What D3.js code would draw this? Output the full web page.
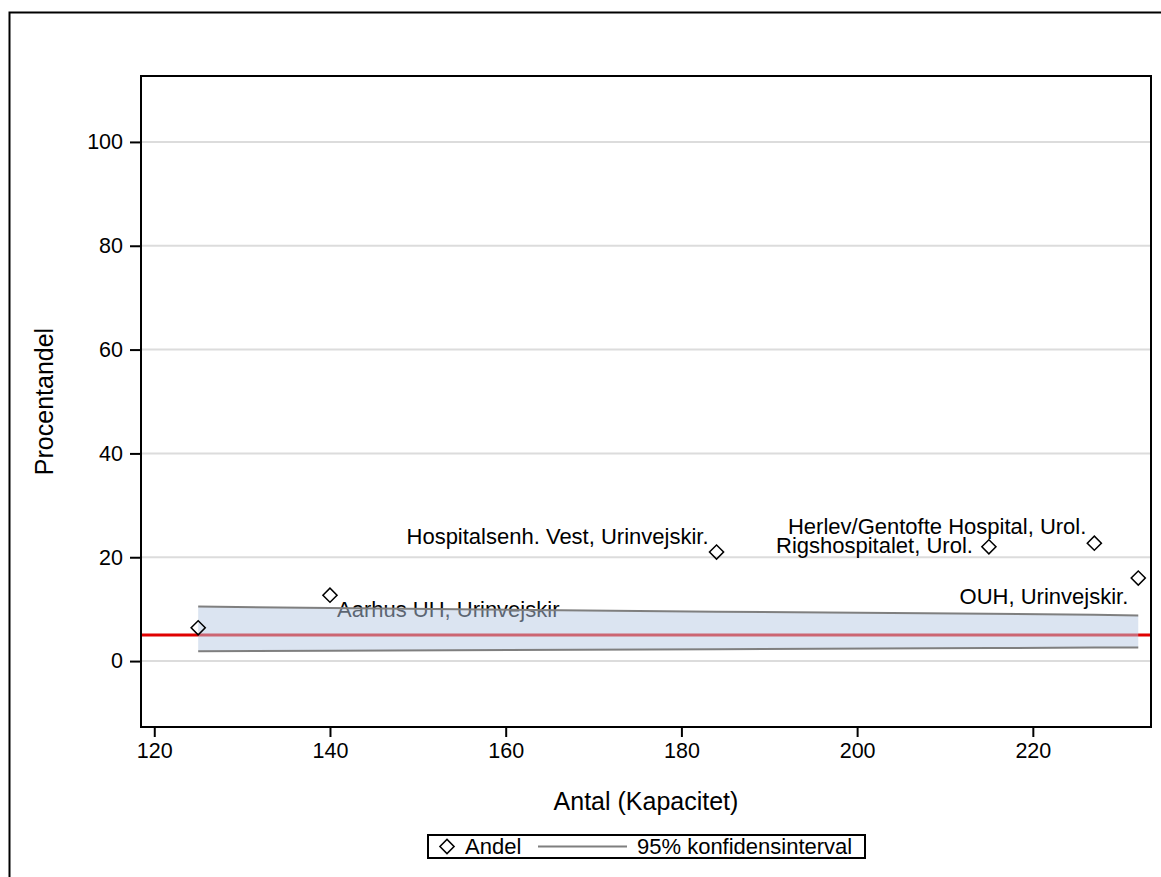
<!DOCTYPE html>
<html>
<head>
<meta charset="utf-8">
<script src="https://cdn.jsdelivr.net/npm/d3@7"></script>
<style>
  body { margin: 0; background: #fff; }
  svg { display: block; font-family: "Liberation Sans", Arial, sans-serif; }
</style>
</head>
<body>
<svg id="graph" width="1161" height="877"></svg>
<script>
// data
const hospitaler = ["Aarhus UH, Urinvejskir", "Hospitalsenh. Vest, Urinvejskir.", "Rigshospitalet, Urol.", "Herlev/Gentofte Hospital, Urol.", "OUH, Urinvejskir.", ""];
const antal = [140, 184, 215, 227, 232, 125];
const andel = [12.7, 21.0, 22.0, 22.7, 16.0, 6.4];

// konfidensinterval (95%) omkring standarden
const ci_antal = [125, 140, 184, 215, 227, 232];
const ci_oevre = [10.5, 10.2, 9.5, 9.1, 8.9, 8.8];
const ci_nedre = [1.9, 2.0, 2.3, 2.5, 2.6, 2.6];
const standard = 5;

const xTicks = [120, 140, 160, 180, 200, 220];
const yTicks = [0, 20, 40, 60, 80, 100];

// placering af labels (ikke data)
const labelPos = {
  "Aarhus UH, Urinvejskir": { anchor: "start", dx: 7, dy: 22 },
  "Hospitalsenh. Vest, Urinvejskir.": { anchor: "end", dx: -8, dy: -8 },
  "Rigshospitalet, Urol.": { anchor: "end", dx: -16, dy: 6 },
  "Herlev/Gentofte Hospital, Urol.": { anchor: "end", dx: -8, dy: -9 },
  "OUH, Urinvejskir.": { anchor: "end", dx: -10, dy: 26 }
};

const svg = d3.select("#graph");

// ydre ramme
svg.append("rect")
  .attr("x", 9.5).attr("y", 12.5)
  .attr("width", 1200).attr("height", 900)
  .attr("fill", "none").attr("stroke", "#000").attr("stroke-width", 2);

const pLeft = 141, pRight = 1151, pTop = 76, pBottom = 727;

const x = d3.scaleLinear().domain([118.49, 233.45]).range([pLeft, pRight]);
const y = d3.scaleLinear().domain([-12.7, 112.7]).range([pBottom, pTop]);

// gitterlinjer
svg.append("g")
  .selectAll("line")
  .data(yTicks)
  .join("line")
  .attr("x1", pLeft).attr("x2", pRight)
  .attr("y1", d => y(d)).attr("y2", d => y(d))
  .attr("stroke", "#dcdcdc").attr("stroke-width", 2);

// rød standardlinje
svg.append("line")
  .attr("x1", pLeft).attr("x2", pRight)
  .attr("y1", y(standard)).attr("y2", y(standard))
  .attr("stroke", "#e00000").attr("stroke-width", 3);

// labels (tegnes før båndet, så Aarhus ligger bag det)
const punkter = antal.map((a, i) => ({ antal: a, andel: andel[i], navn: hospitaler[i] }));

svg.append("g")
  .selectAll("text")
  .data(punkter.filter(d => d.navn !== ""))
  .join("text")
  .attr("x", d => x(d.antal) + labelPos[d.navn].dx)
  .attr("y", d => y(d.andel) + labelPos[d.navn].dy)
  .attr("text-anchor", d => labelPos[d.navn].anchor)
  .attr("fill", "#000")
  .style("font-size", "22px")
  .text(d => d.navn);

// konfidensbånd
const ci = ci_antal.map((a, i) => ({ antal: a, hi: ci_oevre[i], lo: ci_nedre[i] }));

svg.append("path")
  .datum(ci)
  .attr("d", d3.area().x(d => x(d.antal)).y0(d => y(d.lo)).y1(d => y(d.hi)))
  .attr("fill", "#b7cae3")
  .attr("fill-opacity", 0.5);

["hi", "lo"].forEach(k => {
  svg.append("path")
    .datum(ci)
    .attr("d", d3.line().x(d => x(d.antal)).y(d => y(d[k])))
    .attr("fill", "none")
    .attr("stroke", "#7f7f7f")
    .attr("stroke-width", 2);
});

// punkter (diamanter)
const diamant = d3.symbol().type(d3.symbolSquare).size(100);
svg.append("g")
  .selectAll("path")
  .data(punkter)
  .join("path")
  .attr("d", diamant)
  .attr("transform", d => `translate(${x(d.antal)},${y(d.andel)}) rotate(45)`)
  .attr("fill", "none")
  .attr("stroke", "#000")
  .attr("stroke-width", 1.5);

// akser
svg.append("g")
  .attr("transform", `translate(0,${pBottom})`)
  .call(d3.axisBottom(x).tickValues(xTicks).tickSize(10).tickPadding(6).tickSizeOuter(0))
  .call(g => g.select(".domain").remove())
  .call(g => g.selectAll("line").attr("stroke-width", 2))
  .call(g => g.selectAll("text").style("font-size", "21.5px").style("font-family", "Liberation Sans, Arial, sans-serif"));

svg.append("g")
  .attr("transform", `translate(${pLeft},0)`)
  .call(d3.axisLeft(y).tickValues(yTicks).tickSize(11).tickPadding(7).tickSizeOuter(0))
  .call(g => g.select(".domain").remove())
  .call(g => g.selectAll("line").attr("stroke-width", 2))
  .call(g => g.selectAll("text").style("font-size", "21.5px").style("font-family", "Liberation Sans, Arial, sans-serif"));

// plotramme
svg.append("rect")
  .attr("x", pLeft).attr("y", pTop)
  .attr("width", pRight - pLeft).attr("height", pBottom - pTop)
  .attr("fill", "none").attr("stroke", "#000").attr("stroke-width", 2);

// aksetitler
svg.append("text")
  .attr("x", (pLeft + pRight) / 2).attr("y", 810)
  .attr("text-anchor", "middle")
  .style("font-size", "25px")
  .text("Antal (Kapacitet)");

svg.append("text")
  .attr("transform", `translate(53,${(pTop + pBottom) / 2}) rotate(-90)`)
  .attr("text-anchor", "middle")
  .style("font-size", "25px")
  .text("Procentandel");

// forklaring
const lg = svg.append("g");
lg.append("rect")
  .attr("x", 428).attr("y", 835)
  .attr("width", 437).attr("height", 23)
  .attr("fill", "#fff").attr("stroke", "#000").attr("stroke-width", 2);
lg.append("path")
  .attr("d", diamant)
  .attr("transform", "translate(447,846.5) rotate(45)")
  .attr("fill", "none").attr("stroke", "#000").attr("stroke-width", 1.5);
lg.append("text").attr("x", 465).attr("y", 854).style("font-size", "22px").text("Andel");
lg.append("line")
  .attr("x1", 538).attr("x2", 627).attr("y1", 846.5).attr("y2", 846.5)
  .attr("stroke", "#7f7f7f").attr("stroke-width", 2);
lg.append("text").attr("x", 637).attr("y", 854).style("font-size", "22px").text("95% konfidensinterval");
</script>
</body>
</html>
